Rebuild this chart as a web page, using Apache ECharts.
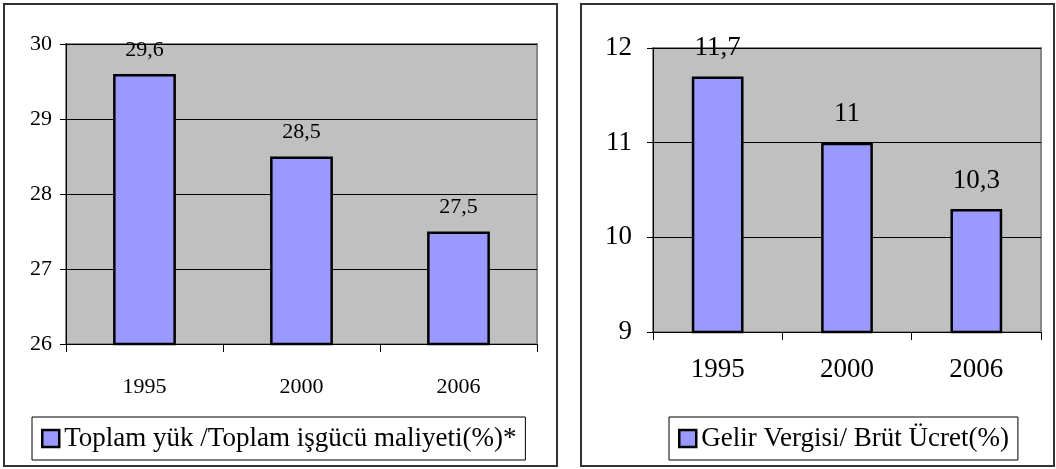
<!DOCTYPE html>
<html>
<head>
<meta charset="utf-8">
<script src="https://cdn.jsdelivr.net/npm/echarts@6/dist/echarts.min.js"></script>
<style>
html,body{margin:0;padding:0;background:#fff;}
#c{width:1056px;height:469px;}
</style>
</head>
<body>
<div id="c"></div>
<script>
const categories = ['1995', '2000', '2006'];
const leftName = 'Toplam yük /Toplam işgücü maliyeti(%)*';
const leftValues = [29.6, 28.5, 27.5];
const rightName = 'Gelir Vergisi/ Brüt Ücret(%)';
const rightValues = [11.7, 11, 10.3];
const leftTicks = { min: 26, max: 30, interval: 1 };
const rightTicks = { min: 9, max: 12, interval: 1 };

const FONT = "'Liberation Serif', 'Times New Roman', serif";
const fmt = p => String(p.value).replace('.', ',');

const chart = echarts.init(document.getElementById('c'), null, { renderer: 'canvas' });

function yAxis(idx, t, fs, margin) {
  return {
    type: 'value', gridIndex: idx, min: t.min, max: t.max, interval: t.interval,
    axisLine: { show: true, lineStyle: { color: '#000', width: 1 } },
    axisTick: { show: true, length: 6, lineStyle: { color: '#000' } },
    axisLabel: { color: '#000', fontFamily: FONT, fontSize: fs, margin: margin },
    splitLine: { show: true, lineStyle: { color: '#000', width: 1 } }
  };
}
function xAxis(idx, fs, margin) {
  return {
    type: 'category', gridIndex: idx, data: categories, boundaryGap: true,
    axisLine: { show: true, lineStyle: { color: '#000', width: 1 } },
    axisTick: { show: true, length: 8, alignWithLabel: false, lineStyle: { color: '#000' } },
    axisLabel: { color: '#000', fontFamily: FONT, fontSize: fs, margin: margin }
  };
}
function legend(name, left) {
  return {
    data: [name], left: left, top: 417, orient: 'horizontal',
    icon: 'rect', itemWidth: 17, itemHeight: 17, itemGap: 0,
    padding: [6, 9, 6, 9],
    borderColor: '#000', borderWidth: 1, backgroundColor: '#fff',
    itemStyle: { color: '#9999ff', borderColor: '#000', borderWidth: 2.5 },
    textStyle: { color: '#000', fontFamily: FONT, fontSize: 27, lineHeight: 31, padding: [0, 0, 0, 0] },
    selectedMode: false
  };
}

chart.setOption({
  animation: false,
  backgroundColor: '#fff',
  graphic: [
    { type: 'rect', shape: { x: 4, y: 4, width: 553, height: 462 }, style: { fill: 'none', stroke: '#333', lineWidth: 2 }, z: -10 },
    { type: 'rect', shape: { x: 581, y: 4, width: 473, height: 462 }, style: { fill: 'none', stroke: '#333', lineWidth: 2 }, z: -10 }
  ],
  grid: [
    { left: 66, top: 44, width: 471, height: 300, show: true, backgroundColor: '#c0c0c0', borderColor: '#888', borderWidth: 2 },
    { left: 653, top: 48, width: 388, height: 284, show: true, backgroundColor: '#c0c0c0', borderColor: '#888', borderWidth: 2 }
  ],
  xAxis: [xAxis(0, 22, 32), xAxis(1, 27, 24)],
  yAxis: [yAxis(0, leftTicks, 22, 14), yAxis(1, rightTicks, 27, 21)],
  legend: [legend(leftName, 32), legend(rightName, 669)],
  series: [
    {
      name: leftName, type: 'bar', xAxisIndex: 0, yAxisIndex: 0, data: leftValues, barWidth: '40%',
      itemStyle: { color: '#9999ff', borderColor: '#000', borderWidth: 2.5 },
      label: { show: true, position: 'top', distance: 13, color: '#000', fontFamily: FONT, fontSize: 22, formatter: fmt }
    },
    {
      name: rightName, type: 'bar', xAxisIndex: 1, yAxisIndex: 1, data: rightValues, barWidth: '40%',
      itemStyle: { color: '#9999ff', borderColor: '#000', borderWidth: 2.5 },
      label: { show: true, position: 'top', distance: 15, color: '#000', fontFamily: FONT, fontSize: 27, formatter: fmt }
    }
  ]
});
</script>
</body>
</html>
